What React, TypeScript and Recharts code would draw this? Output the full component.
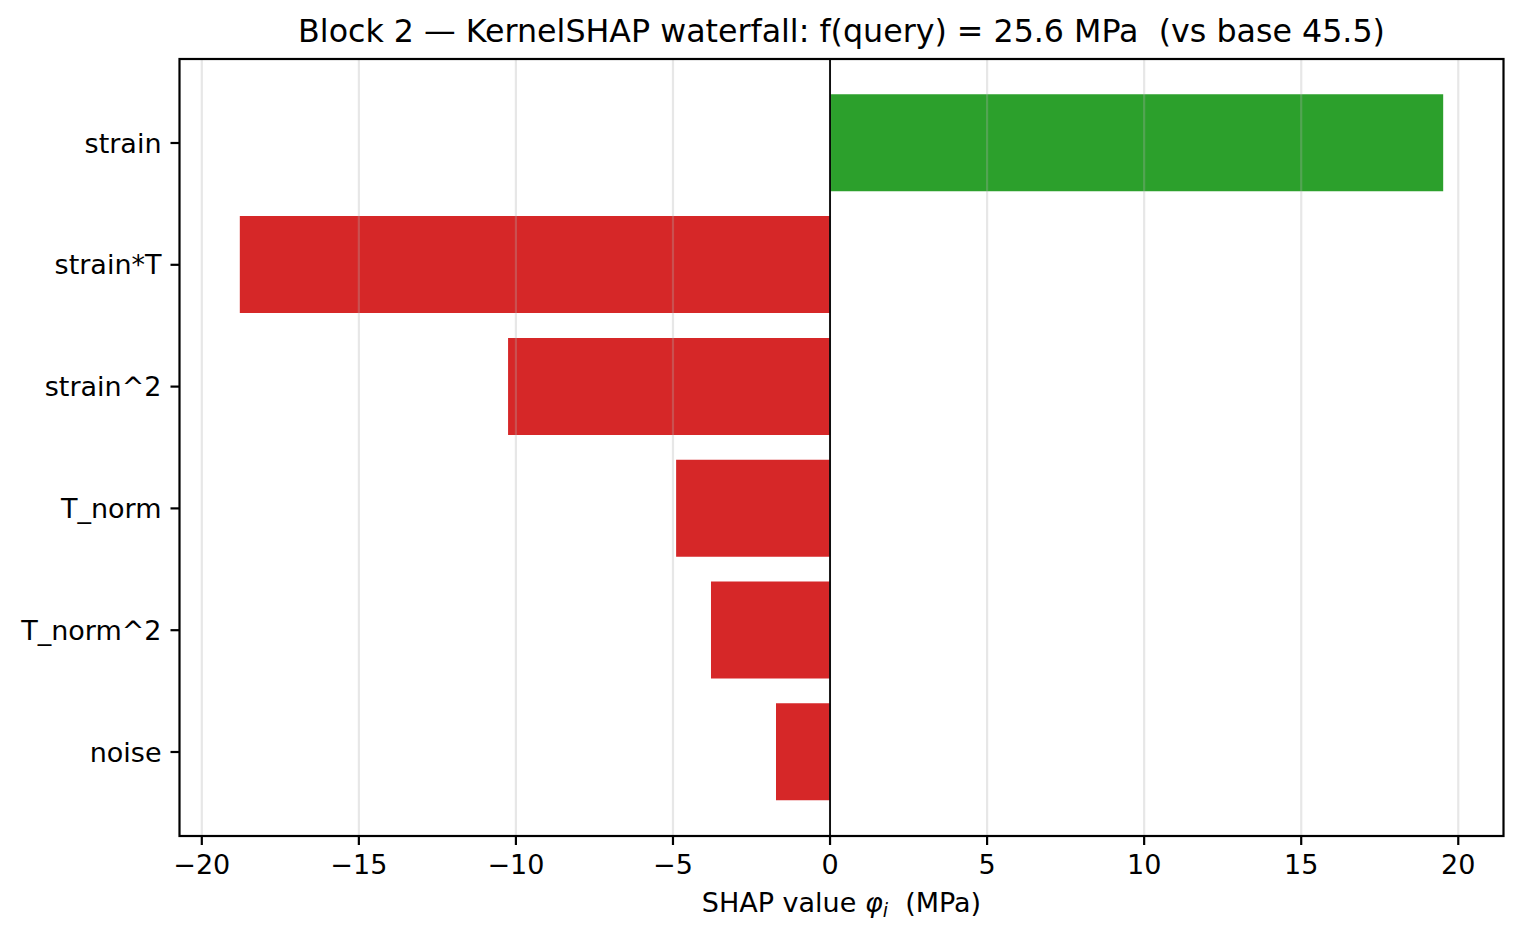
import React from 'react';
import { BarChart, Bar, XAxis, YAxis, Cell, ReferenceLine } from 'recharts';

const features = ['strain', 'strain*T', 'strain^2', 'T_norm', 'T_norm^2', 'noise'];
const shapValues = [19.52, -18.79, -10.25, -4.9, -3.79, -1.72];
const xTicks = [-20, -15, -10, -5, 0, 5, 10, 15, 20];
const xDomain: [number, number] = [-20.71, 21.44];

const titleText = 'Block 2 \u2014 KernelSHAP waterfall: f(query) = 25.6 MPa  (vs base 45.5)';

const POS = '#2ca02c';
const NEG = '#d62728';
const FONT = '"DejaVu Sans", sans-serif';

const data = features.map((f, i) => ({ feature: f, value: shapValues[i] }));

const W = 1522;
const H = 939;
const PLOT = { left: 179.5, top: 59, right: 1503.5, bottom: 836 };

const fmt = (v: number) => (v < 0 ? '\u2212' + Math.abs(v) : String(v));

export default function App() {
  return (
    <div style={{ position: 'absolute', left: 0, top: 0, width: W, height: H, background: '#fff' }}>
      <BarChart
        width={W}
        height={H}
        data={data}
        layout="vertical"
        margin={{ top: PLOT.top, right: W - PLOT.right, left: 0, bottom: H - PLOT.bottom - 40 }}
        barCategoryGap="10%"
      >
        <XAxis
          type="number"
          dataKey="value"
          domain={xDomain}
          ticks={xTicks}
          tickFormatter={fmt}
          allowDataOverflow
          axisLine={false}
          tickLine={{ stroke: '#000', strokeWidth: 2.2 }}
          tickSize={9}
          tickMargin={10}
          height={40}
          tick={{ fill: '#000', fontSize: 27, fontFamily: FONT }}
        />
        <YAxis
          type="category"
          dataKey="feature"
          width={PLOT.left}
          padding={{ top: 23.1, bottom: 23.1 }}
          axisLine={false}
          tickLine={{ stroke: '#000', strokeWidth: 2.2 }}
          tickSize={9}
          tickMargin={9}
          interval={0}
          tick={{ fill: '#000', fontSize: 27, fontFamily: FONT }}
        />
        <Bar dataKey="value" isAnimationActive={false}>
          {data.map((d, i) => (
            <Cell key={i} fill={d.value >= 0 ? POS : NEG} />
          ))}
        </Bar>
        {xTicks.map((t) => (
          <ReferenceLine key={'g' + t} x={t} stroke="#b0b0b0" strokeOpacity={0.3} strokeWidth={2.2} />
        ))}
        <ReferenceLine x={0} stroke="#000" strokeWidth={1.8} />
      </BarChart>
      <svg
        width={W}
        height={H}
        style={{ position: 'absolute', left: 0, top: 0, pointerEvents: 'none' }}
      >
        <rect
          x={PLOT.left}
          y={PLOT.top}
          width={PLOT.right - PLOT.left}
          height={PLOT.bottom - PLOT.top}
          fill="none"
          stroke="#000"
          strokeWidth={2.2}
        />
        <text
          x={841.5}
          y={41.7}
          textAnchor="middle"
          fontFamily={FONT}
          fontSize={31.7}
          fill="#000"
          style={{ whiteSpace: 'pre' }}
        >
          {titleText}
        </text>
        <text
          x={841.5}
          y={911.7}
          textAnchor="middle"
          fontFamily={FONT}
          fontSize={27}
          fill="#000"
          style={{ whiteSpace: 'pre' }}
        >
          <tspan>SHAP value </tspan>
          <tspan fontStyle="italic">{'\u03c6'}</tspan>
          <tspan fontStyle="italic" fontSize={19} dy={5}>i</tspan>
          <tspan dy={-5}>{'  (MPa)'}</tspan>
        </text>
      </svg>
    </div>
  );
}
